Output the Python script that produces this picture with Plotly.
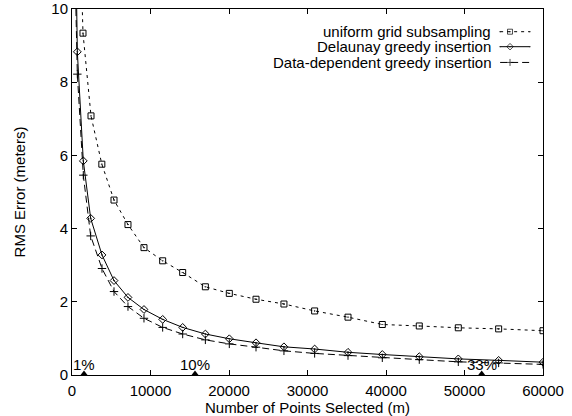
import plotly.graph_objects as go

# points selected (x) and RMS error (y) per method
grid_x = [700, 1400, 2420, 3800, 5350, 7130, 9170, 11550, 14100, 16990, 20040, 23440,
          27000, 30910, 35160, 39530, 44240, 49210, 54350, 60000]
grid_y = [14.5, 9.34, 7.08, 5.76, 4.78, 4.11, 3.48, 3.12, 2.80, 2.41, 2.23, 2.07,
          1.94, 1.75, 1.58, 1.38, 1.34, 1.29, 1.26, 1.21]

greedy_x = [340, 680, 1440, 2380, 3820, 5350, 7130, 9170, 11550, 14100, 16990, 20040,
            23440, 27000, 30910, 35160, 39530, 44240, 49210, 54350, 60000]
delaunay_y = [13.8, 8.83, 5.85, 4.28, 3.28, 2.58, 2.12, 1.79, 1.52, 1.30, 1.12, 0.99,
              0.88, 0.77, 0.71, 0.62, 0.56, 0.50, 0.44, 0.40, 0.35]
datadep_y = [11.5, 8.22, 5.46, 3.80, 2.91, 2.28, 1.87, 1.55, 1.30, 1.12, 0.96, 0.85,
             0.76, 0.66, 0.59, 0.53, 0.47, 0.42, 0.36, 0.33, 0.29]

pct_x = [1530, 15670, 52190]
pct_labels = ["1%", "10%", "33%"]

names = ["uniform grid subsampling", "Delaunay greedy insertion", "Data-dependent greedy insertion"]
dashes = ["3px,4px", "solid", "7px,4px"]
symbols = ["square-open-dot", "diamond-open-dot", "cross-thin-open"]
sizes = [6, 6, 6]

FONT = "Liberation Sans, Arial, sans-serif"
series = [(grid_x, grid_y), (greedy_x, delaunay_y), (greedy_x, datadep_y)]

fig = go.Figure()
for (xs, ys), name, dash, sym, size in zip(series, names, dashes, symbols, sizes):
    fig.add_trace(go.Scatter(
        x=xs, y=ys, mode="lines+markers", name=name, showlegend=False,
        line=dict(color="black", width=1, dash=dash),
        marker=dict(symbol=sym, size=size, color="black", line=dict(color="black", width=1)),
    ))

fig.add_trace(go.Scatter(
    x=pct_x, y=[0] * len(pct_x), mode="markers", showlegend=False,
    marker=dict(symbol="triangle-up", size=9, color="black"),
))

# key drawn gnuplot-style: text on the left, sample on the right
key_y = [0.938, 0.897, 0.854]
for name, dash, sym, size, ky in zip(names, dashes, symbols, sizes, key_y):
    fig.add_trace(go.Scatter(
        x=[0.909, 0.93, 0.972], y=[ky, ky, ky], xaxis="x2", yaxis="y2",
        mode="lines+markers", showlegend=False, hoverinfo="skip",
        line=dict(color="black", width=1, dash=dash),
        marker=dict(symbol=sym, size=[0, size - 1, 0], color="black", line=dict(color="black", width=1)),
    ))
    fig.add_annotation(
        x=0.894, y=ky, xref="x2", yref="y2", text=name, showarrow=False,
        xanchor="right", yanchor="middle", font=dict(size=15, color="black", family=FONT),
    )

for px, lab in zip(pct_x, pct_labels):
    fig.add_annotation(
        x=px, y=0, text=lab, showarrow=False, xanchor="center", yanchor="bottom",
        font=dict(size=15, color="black", family=FONT),
    )

axis_common = dict(
    showline=True, linecolor="black", linewidth=1, mirror="ticks",
    ticks="inside", ticklen=5, tickcolor="black", showgrid=False, zeroline=False,
    automargin=False, ticklabeloverflow="allow",
    tickfont=dict(size=15, color="black", family=FONT),
)

fig.update_layout(
    width=572, height=416,
    margin=dict(l=72, r=29, t=9, b=41),
    paper_bgcolor="white", plot_bgcolor="white",
    font=dict(family=FONT, size=15, color="black"),
    xaxis=dict(range=[0, 60000], dtick=10000, tickformat="d", ticklabelstandoff=2,
               title=dict(text="Number of Points Selected (m)", standoff=0,
                          font=dict(size=15, color="black", family=FONT)),
               **axis_common),
    yaxis=dict(range=[0, 10], dtick=2,
               title=dict(text="RMS Error (meters)", standoff=22,
                          font=dict(size=15, color="black", family=FONT)),
               **axis_common),
    xaxis2=dict(overlaying="x", range=[0, 1], visible=False),
    yaxis2=dict(overlaying="y", range=[0, 1], visible=False),
)

# drop the browser's default 8px page margin so the figure sits at the window corner
fig.write_html("out.html", config={"displayModeBar": False},
               post_script="document.body.style.margin = '0';")
